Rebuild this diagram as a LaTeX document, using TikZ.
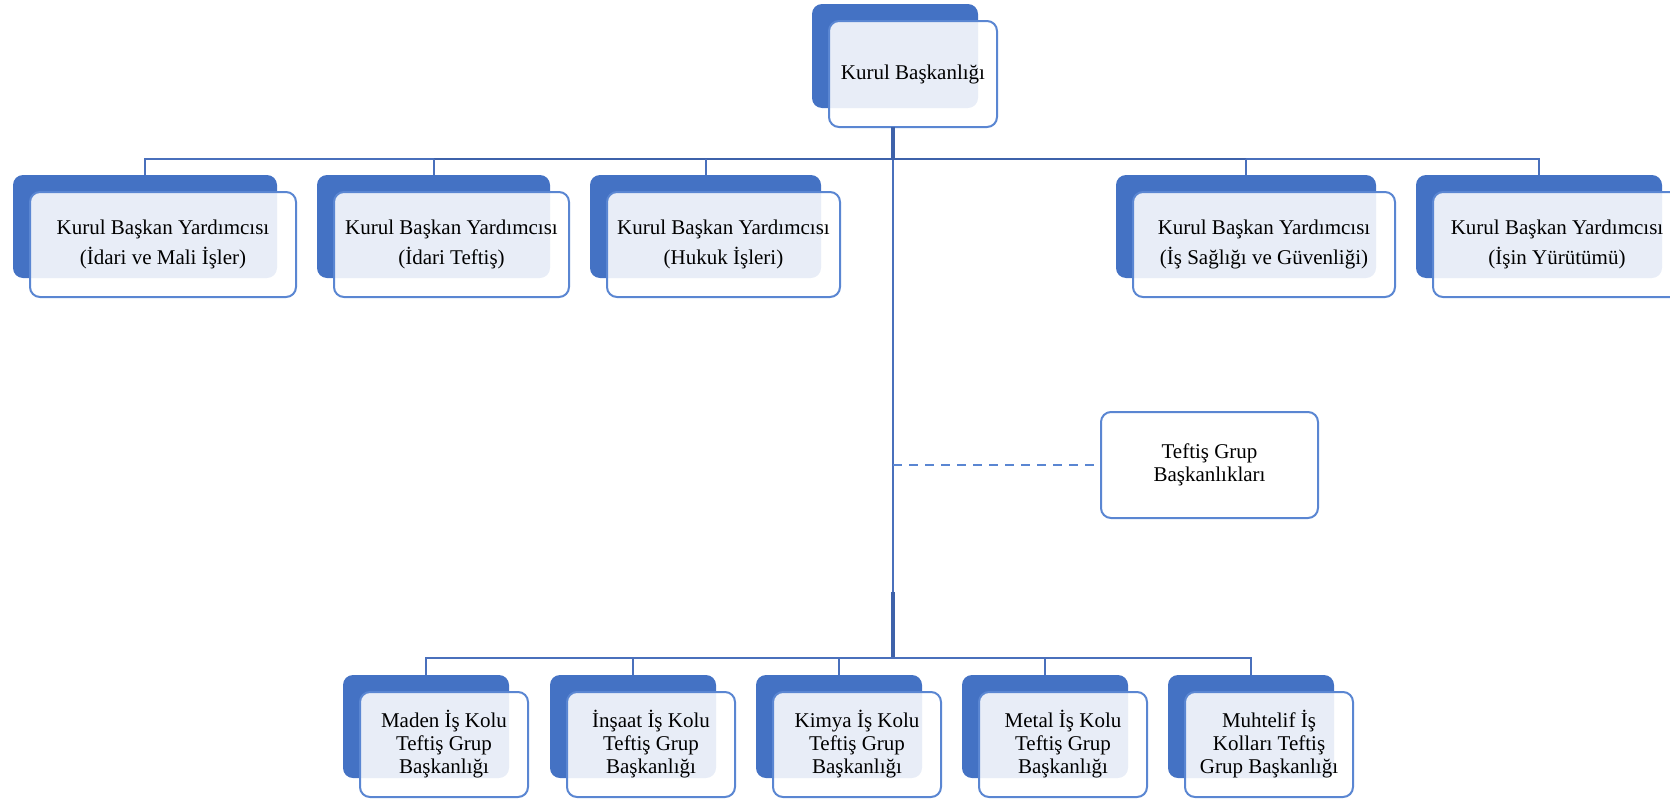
\documentclass[tikz,border=0pt]{standalone}
\usepackage{fontspec}
\setmainfont{Liberation Serif}
\definecolor{orgblue}{HTML}{4472C4}
\definecolor{edgeblue}{HTML}{5A86D2}
\definecolor{linkblue}{HTML}{4A70BC}
\definecolor{barblue}{HTML}{3E62AA}
\tikzset{
  backcard/.style={fill=orgblue, draw=none, rounded corners=10pt, inner sep=0pt, outer sep=0pt},
  frontcard/.style={fill=white, fill opacity=0.88, text opacity=1, draw=edgeblue, line width=2pt,
    rounded corners=10pt, inner sep=0pt, outer sep=0pt, align=center, text=black},
  plaincard/.style={fill=white, draw=edgeblue, line width=2pt, rounded corners=10pt,
    inner sep=0pt, outer sep=0pt, align=center, text=black},
  link/.style={draw=linkblue, line width=2pt},
  thicklink/.style={draw=barblue, line width=3.5pt},
  dashlink/.style={draw=edgeblue, line width=2pt, dash pattern=on 9pt off 7pt},
}
% #1 name, #2 left, #3 top, #4 width, #5 height, #6 font, #7 text
\newcommand\orgcard[7]{%
  \node[backcard, minimum width=#4, minimum height=#5] (#1b) at ({#2+#4/2},{#3+#5/2}) {};
  \node[frontcard, minimum width=#4+2, minimum height=#5+2, font=#6] (#1) at ({#2+#4/2+18},{#3+#5/2+18}) {#7};
}
\newcommand\wideline{\fontsize{21}{30}\selectfont}
\newcommand\tightline{\fontsize{21}{23}\selectfont}
\begin{document}
\begin{tikzpicture}[x=1pt,y=-1pt]
\useasboundingbox (0,0) rectangle (1670,798);
\clip (0,0) rectangle (1670,798);

% hub points on the central spine
\coordinate (hubtop) at (893,159);
\coordinate (hubmid) at (893,592);
\coordinate (hubbot) at (893,658);

% top
\orgcard{chair}{812}{4}{166}{104}{\wideline}{Kurul Başkanlığı}

% deputies
\orgcard{l1}{13}{175}{264}{103}{\wideline}{Kurul Başkan Yardımcısı\\(İdari ve Mali İşler)}
\orgcard{l2}{317}{175}{233}{103}{\wideline}{Kurul Başkan Yardımcısı\\(İdari Teftiş)}
\orgcard{l3}{590}{175}{231}{103}{\wideline}{Kurul Başkan Yardımcısı\\(Hukuk İşleri)}
\orgcard{l4}{1116}{175}{260}{103}{\wideline}{Kurul Başkan Yardımcısı\\(İş Sağlığı ve Güvenliği)}
\orgcard{l5}{1416}{175}{246}{103}{\wideline}{Kurul Başkan Yardımcısı\\(İşin Yürütümü)}

% staff unit
\node[plaincard, minimum width=217, minimum height=106, font=\tightline] (grp) at (1209.5,465) {Teftiş Grup\\Başkanlıkları};

% group presidencies
\orgcard{m1}{343}{675}{166}{103}{\tightline}{Maden İş Kolu\\Teftiş Grup\\Başkanlığı}
\orgcard{m2}{550}{675}{166}{103}{\tightline}{İnşaat İş Kolu\\Teftiş Grup\\Başkanlığı}
\orgcard{m3}{756}{675}{166}{103}{\tightline}{Kimya İş Kolu\\Teftiş Grup\\Başkanlığı}
\orgcard{m4}{962}{675}{166}{103}{\tightline}{Metal İş Kolu\\Teftiş Grup\\Başkanlığı}
\orgcard{m5}{1168}{675}{166}{103}{\tightline}{Muhtelif İş\\Kolları Teftiş\\Grup Başkanlığı}

% central spine
\draw[link] (hubtop |- chair.south) -- (hubbot);
\draw[thicklink] (hubtop |- chair.south) -- (hubtop);
\draw[thicklink] (hubmid) -- (hubbot);

% upper branch
\draw[link] (l1b.north) -- (l1b.north |- hubtop) -- (l5b.north |- hubtop) -- (l5b.north);
\draw[thicklink, line width=2.8pt] (l2b.north |- hubtop) -- (l4b.north |- hubtop);
\draw[link] (l2b.north |- hubtop) -- (l2b.north);
\draw[link] (l3b.north |- hubtop) -- (l3b.north);
\draw[link] (l4b.north |- hubtop) -- (l4b.north);

% lower branch
\draw[link] (m1b.north) -- (m1b.north |- hubbot) -- (m5b.north |- hubbot) -- (m5b.north);
\draw[link] (m2b.north |- hubbot) -- (m2b.north);
\draw[link] (m3b.north |- hubbot) -- (m3b.north);
\draw[link] (m4b.north |- hubbot) -- (m4b.north);

% staff link
\draw[dashlink] (hubtop |- grp.west) -- (grp.west);
\end{tikzpicture}
\end{document}
